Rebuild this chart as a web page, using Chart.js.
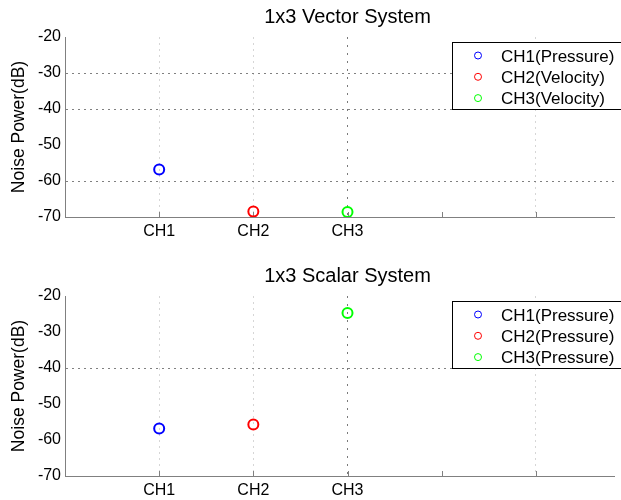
<!DOCTYPE html>
<html>
<head>
<meta charset="utf-8">
<title>Noise Power</title>
<script src="https://cdn.jsdelivr.net/npm/chart.js@4.4.1/dist/chart.umd.min.js"></script>
<style>
  body { margin: 0; background: #fff; }
  #wrap { position: relative; width: 621px; height: 500px; overflow: hidden; }
  #wrap canvas { position: absolute; left: 0; }
</style>
</head>
<body>
<div id="wrap">
  <canvas id="vectorChart" width="621" height="250" style="top:0"></canvas>
  <canvas id="scalarChart" width="621" height="250" style="top:250px"></canvas>
</div>
<script>
// channel positions on the x axis and their tick labels
const channelPositions = [1, 2, 3];
const xTickValues = [1, 2, 3, 4, 5];
const xTickLabels = ['CH1', 'CH2', 'CH3', '', ''];
const yTickValues = [-20, -30, -40, -50, -60, -70];

// measured noise power per channel (dB)
const vectorNoise = [-56.8, -68.5, -68.6];
const scalarNoise = [-56.8, -55.7, -24.7];

const vectorLabels = ['CH1(Pressure)', 'CH2(Velocity)', 'CH3(Velocity)'];
const scalarLabels = ['CH1(Pressure)', 'CH2(Pressure)', 'CH3(Pressure)'];

// horizontal grid rows that are shown in each panel
const vectorGridRows = [-30, -40, -60];
const scalarGridRows = [-40];

const channelColors = ['#0000ff', '#ff0000', '#00ff00'];
const fontFamily = "'Liberation Sans', Arial, sans-serif";

// draws the panel title, inward x ticks and the boxed legend
const panelDecor = {
  id: 'panelDecor',
  beforeDatasetsDraw(chart) {
    const { ctx, chartArea, scales: { x } } = chart;
    ctx.save();
    ctx.strokeStyle = '#808080';
    ctx.lineWidth = 1;
    xTickValues.forEach((v) => {
      const px = Math.round(x.getPixelForValue(v)) + 0.5;
      ctx.beginPath();
      ctx.moveTo(px, chartArea.bottom);
      ctx.lineTo(px, chartArea.bottom - 5);
      ctx.stroke();
    });
    ctx.restore();
  },
  afterDraw(chart, args, opts) {
    const { ctx, scales: { x } } = chart;
    ctx.save();
    // title, centred over the middle channel
    ctx.font = `20px ${fontFamily}`;
    ctx.fillStyle = '#000';
    ctx.textAlign = 'center';
    ctx.textBaseline = 'alphabetic';
    ctx.fillText(opts.title, x.getPixelForValue(3), opts.titleBaseline);

    // legend box
    const box = opts.legendBox;
    ctx.fillStyle = '#fff';
    ctx.fillRect(box.left, box.top, box.width, box.height);
    ctx.strokeStyle = '#000';
    ctx.lineWidth = 1;
    ctx.strokeRect(box.left + 0.5, box.top + 0.5, box.width, box.height);

    ctx.font = `17px ${fontFamily}`;
    ctx.textAlign = 'left';
    chart.data.datasets.forEach((ds, i) => {
      const cy = box.top + 13.5 + i * 21.3;
      ctx.beginPath();
      ctx.arc(box.left + 26, cy, 3.5, 0, Math.PI * 2);
      ctx.strokeStyle = ds.borderColor;
      ctx.stroke();
      ctx.fillStyle = '#000';
      ctx.fillText(ds.label, box.left + 49, cy + 6);
    });
    ctx.restore();
  }
};

function buildPanel(canvasId, title, noise, labels, gridRows, layout) {
  const datasets = noise.map((value, i) => ({
    label: labels[i],
    data: [{ x: channelPositions[i], y: value }],
    borderColor: channelColors[i],
    backgroundColor: 'rgba(0,0,0,0)',
    pointRadius: 5,
    pointHoverRadius: 5,
    pointBorderWidth: 2
  }));

  return new Chart(document.getElementById(canvasId), {
    type: 'scatter',
    data: { datasets },
    options: {
      responsive: false,
      devicePixelRatio: 1,
      animation: false,
      events: [],
      layout: { padding: { top: layout.areaTop, left: 0, right: 0, bottom: 0 } },
      plugins: {
        legend: { display: false },
        tooltip: { enabled: false },
        panelDecor: {
          title,
          titleBaseline: layout.titleBaseline,
          legendBox: { left: 452, top: layout.legendTop, width: 200, height: 67 }
        }
      },
      scales: {
        x: {
          type: 'linear',
          min: 0,
          max: 5.83,
          afterBuildTicks: (scale) => { scale.ticks = xTickValues.map((v) => ({ value: v })); },
          afterFit: (scale) => { scale.height = layout.axisHeight; },
          ticks: {
            autoSkip: false,
            maxRotation: 0,
            padding: 5,
            color: '#000',
            font: { family: fontFamily, size: 16 },
            callback: (value) => xTickLabels[xTickValues.indexOf(value)]
          },
          grid: {
            drawTicks: false,
            lineWidth: 1,
            color: (c) => {
              const v = c.tick && c.tick.value;
              if (v === 3) return '#7a7a7a';
              if (v === 4 || v === 0) return 'rgba(0,0,0,0)';
              return '#d6d6d6';
            }
          },
          border: {
            color: '#808080',
            width: 1,
            dash: (c) => (c.tick && c.tick.value === 3 ? [2, 6] : [2, 4])
          }
        },
        y: {
          min: -70,
          max: -20,
          afterBuildTicks: (scale) => { scale.ticks = yTickValues.map((v) => ({ value: v })); },
          afterFit: (scale) => { scale.width = 65; },
          ticks: {
            padding: 4,
            color: '#000',
            font: { family: fontFamily, size: 16 }
          },
          title: {
            display: true,
            text: 'Noise Power(dB)',
            color: '#000',
            font: { family: fontFamily, size: 17.5 },
            padding: { top: 9, bottom: 0 }
          },
          grid: {
            drawTicks: false,
            lineWidth: 1,
            color: (c) => (c.tick && gridRows.includes(c.tick.value) ? '#808080' : 'rgba(0,0,0,0)')
          },
          border: { color: '#808080', width: 1, dash: [2, 4] }
        }
      }
    },
    plugins: [panelDecor]
  });
}

if (typeof Chart !== 'undefined') {
  buildPanel('vectorChart', '1x3 Vector System', vectorNoise, vectorLabels, vectorGridRows,
    { areaTop: 37, axisHeight: 33, titleBaseline: 23, legendTop: 42 });
  buildPanel('scalarChart', '1x3 Scalar System', scalarNoise, scalarLabels, scalarGridRows,
    { areaTop: 46, axisHeight: 24, titleBaseline: 32, legendTop: 51 });
}
</script>
</body>
</html>
